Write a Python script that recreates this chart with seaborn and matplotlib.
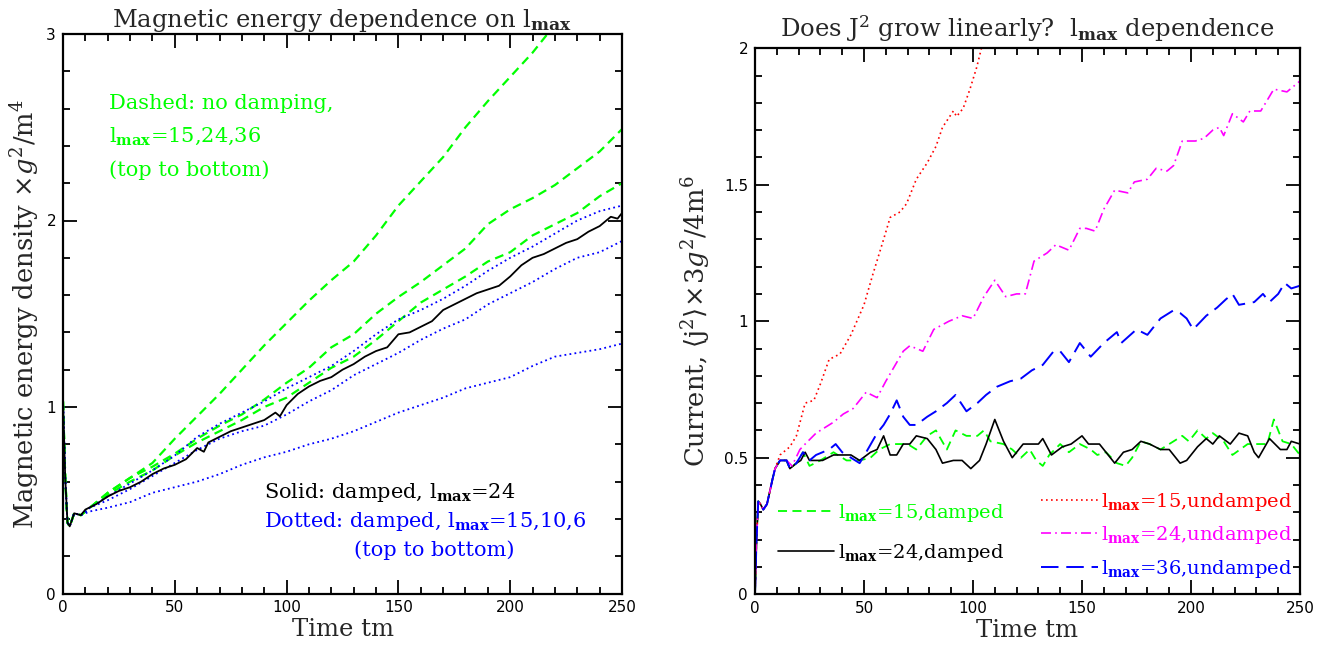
import numpy as np
import pandas as pd
import matplotlib
matplotlib.use("Agg")
import matplotlib.pyplot as plt
import seaborn as sns
from matplotlib.ticker import MultipleLocator, FuncFormatter

# ---------------- Left panel data (Magnetic energy density) ----------------
t_left = [0, 1, 2, 3, 5, 8, 12, 20, 30, 40, 50, 60, 70, 80, 90, 100, 110, 120,
          130, 140, 150, 160, 170, 180, 190, 200, 210, 220, 230, 240, 250]
early_left = [1.03, 0.62, 0.38, 0.36, 0.43, 0.42, 0.46]

g15_undamped = early_left + [0.54, 0.62, 0.70, 0.83, 0.95, 1.07, 1.20, 1.33, 1.45, 1.57, 1.68,
                             1.78, 1.92, 2.08, 2.21, 2.34, 2.50, 2.64, 2.77, 2.90, 3.05]
t_g15 = t_left[:len(g15_undamped)]
g24_undamped = early_left + [0.54, 0.62, 0.68, 0.75, 0.83, 0.90, 0.96, 1.04, 1.13, 1.21, 1.32,
                             1.39, 1.50, 1.59, 1.67, 1.76, 1.85, 1.98, 2.06, 2.12, 2.19, 2.28,
                             2.37, 2.49]
g36_undamped = early_left + [0.53, 0.60, 0.66, 0.74, 0.81, 0.87, 0.93, 1.00, 1.05, 1.13, 1.21,
                             1.27, 1.36, 1.46, 1.56, 1.63, 1.70, 1.78, 1.83, 1.92, 1.98, 2.04,
                             2.13, 2.20]
b15_damped = early_left + [0.52, 0.59, 0.66, 0.74, 0.84, 0.91, 0.97, 1.03, 1.10, 1.16, 1.22,
                           1.30, 1.39, 1.47, 1.52, 1.58, 1.65, 1.73, 1.80, 1.86, 1.93, 2.00,
                           2.05, 2.08]
b10_damped = early_left + [0.50, 0.56, 0.63, 0.70, 0.77, 0.83, 0.87, 0.90, 0.96, 1.03, 1.09,
                           1.17, 1.23, 1.29, 1.36, 1.42, 1.47, 1.55, 1.61, 1.67, 1.74, 1.80,
                           1.83, 1.89]
b6_damped = [1.03, 0.62, 0.38, 0.36, 0.43, 0.42, 0.44, 0.46, 0.49, 0.54, 0.57, 0.60, 0.64, 0.69,
             0.73, 0.76, 0.80, 0.83, 0.87, 0.92, 0.97, 1.01, 1.05, 1.10, 1.13, 1.16, 1.22,
             1.27, 1.29, 1.31, 1.34]

t_black_left = [0, 1, 2, 3, 5, 8, 10, 15, 20, 25, 30, 35, 40, 45, 50, 55, 60, 63, 65, 70, 75,
                80, 85, 90, 95, 97, 100, 105, 110, 115, 120, 125, 130, 135, 140, 145, 150,
                155, 160, 165, 170, 175, 180, 185, 190, 195, 200, 205, 210, 215, 220, 225,
                230, 235, 240, 245, 248, 250]
k24_damped = [1.03, 0.62, 0.38, 0.36, 0.43, 0.42, 0.45, 0.48, 0.52, 0.55, 0.57, 0.60, 0.64,
              0.67, 0.69, 0.72, 0.78, 0.76, 0.81, 0.84, 0.87, 0.89, 0.91, 0.93, 0.97, 0.95,
              1.01, 1.07, 1.11, 1.14, 1.16, 1.20, 1.23, 1.27, 1.30, 1.32, 1.39, 1.40, 1.43,
              1.46, 1.52, 1.55, 1.58, 1.61, 1.63, 1.65, 1.70, 1.76, 1.80, 1.82, 1.85, 1.88,
              1.90, 1.94, 1.97, 2.02, 2.01, 2.04]

# ---------------- Right panel data (Current <j^2>) ----------------
t_early_r = [0, 0.7, 1.5, 2.5, 3.8, 5.5, 6.9, 8, 9.2]
v_early_r = [0.0, 0.20, 0.34, 0.33, 0.31, 0.33, 0.38, 0.42, 0.46]
t_common_r = [11.5, 14.5, 16, 19]
v_common_r = [0.49, 0.49, 0.46, 0.48]

t_red = [11.5, 16, 19, 23, 27, 30, 34, 39, 44, 50, 54, 59, 62, 66.5, 69.5, 74, 79, 83,
         86, 91, 92.5, 95.5, 98.6, 101.7, 104.5]
v_red = [0.51, 0.54, 0.58, 0.70, 0.71, 0.77, 0.86, 0.88, 0.95, 1.06, 1.17, 1.30, 1.38, 1.40,
         1.43, 1.52, 1.58, 1.64, 1.71, 1.77, 1.75, 1.78, 1.85, 1.93, 2.02]

t_mag = [11.5, 14.5, 17, 20.6, 23, 28, 36, 40.5, 45, 51, 56, 60, 68, 71, 77, 82, 89, 95,
         100, 105, 110, 115, 120, 124, 128, 134, 138, 144, 149, 152, 156, 160, 165, 171,
         174, 180, 184, 189, 192, 196, 202, 206, 210, 213, 215, 219, 224, 227, 232, 238,
         244, 250]
v_mag = [0.49, 0.49, 0.47, 0.53, 0.55, 0.59, 0.63, 0.66, 0.68, 0.74, 0.72, 0.78, 0.89, 0.91,
         0.89, 0.97, 1.00, 1.02, 1.01, 1.09, 1.15, 1.09, 1.10, 1.10, 1.22, 1.25, 1.28, 1.26,
         1.34, 1.34, 1.33, 1.41, 1.48, 1.47, 1.51, 1.52, 1.56, 1.55, 1.57, 1.66, 1.66, 1.67,
         1.70, 1.71, 1.68, 1.76, 1.73, 1.77, 1.77, 1.85, 1.84, 1.88]

t_blue = [22, 25, 28, 34, 37, 40, 44, 48, 51, 56, 59, 62, 65, 68, 71, 74, 79, 83, 88, 92,
          97, 102, 106, 111, 117, 122, 127, 132, 137, 140, 144, 149, 154, 160, 166, 168,
          175, 180, 186, 192, 195, 198, 201, 207, 212, 216, 219, 222, 229, 233, 236, 240,
          243, 246, 250]
v_blue = [0.52, 0.49, 0.51, 0.53, 0.55, 0.52, 0.50, 0.48, 0.52, 0.59, 0.62, 0.66, 0.71, 0.65,
          0.62, 0.62, 0.65, 0.67, 0.70, 0.73, 0.67, 0.70, 0.73, 0.76, 0.78, 0.79, 0.82, 0.84,
          0.89, 0.89, 0.85, 0.92, 0.87, 0.92, 0.96, 0.92, 0.97, 0.95, 1.01, 1.04, 1.03, 1.01,
          0.97, 1.02, 1.05, 1.08, 1.10, 1.06, 1.07, 1.10, 1.07, 1.10, 1.14, 1.12, 1.13]

t_black = [21, 23, 25, 31, 36, 44, 48, 53, 56, 59, 62, 65, 68, 71, 74, 79, 83, 86, 91, 95,
           99, 103, 106, 110, 114, 118, 123, 126, 130, 132, 136, 141, 145, 150, 153, 158,
           163, 165, 169, 173, 177, 181, 186, 190, 195, 198, 203, 207, 210, 213, 218, 222,
           226, 229, 231, 236, 241, 244, 246, 250]
v_black = [0.49, 0.52, 0.49, 0.49, 0.51, 0.51, 0.49, 0.52, 0.53, 0.58, 0.51, 0.51, 0.55, 0.55,
           0.58, 0.57, 0.53, 0.48, 0.49, 0.49, 0.46, 0.49, 0.55, 0.64, 0.56, 0.50, 0.55, 0.55,
           0.55, 0.57, 0.51, 0.54, 0.55, 0.58, 0.55, 0.55, 0.50, 0.48, 0.52, 0.53, 0.56, 0.55,
           0.53, 0.53, 0.48, 0.49, 0.54, 0.57, 0.55, 0.58, 0.55, 0.59, 0.58, 0.52, 0.50, 0.57,
           0.53, 0.53, 0.56, 0.55]

t_green = [22, 25, 30, 36, 42, 48, 53, 57, 62, 65, 70, 74, 79, 83, 88, 92, 97, 102, 105, 108,
           114, 118, 122, 126, 129, 132, 135, 140, 144, 149, 154, 157, 161, 166, 170, 173,
           177, 181, 186, 190, 196, 199, 203, 207, 210, 215, 219, 226, 230, 235, 238, 242,
           246, 250]
v_green = [0.52, 0.47, 0.49, 0.52, 0.49, 0.49, 0.50, 0.53, 0.55, 0.55, 0.55, 0.53, 0.58, 0.60,
           0.53, 0.60, 0.58, 0.58, 0.60, 0.56, 0.55, 0.53, 0.50, 0.53, 0.49, 0.47, 0.51, 0.55,
           0.52, 0.55, 0.53, 0.51, 0.52, 0.48, 0.47, 0.50, 0.56, 0.55, 0.53, 0.55, 0.58, 0.56,
           0.60, 0.57, 0.59, 0.56, 0.51, 0.55, 0.55, 0.55, 0.64, 0.56, 0.55, 0.51]

labels_right = [r"$\mathrm{l}_{\mathbf{max}}$=15,damped", r"$\mathrm{l}_{\mathbf{max}}$=24,damped",
                r"$\mathrm{l}_{\mathbf{max}}$=15,undamped", r"$\mathrm{l}_{\mathbf{max}}$=24,undamped",
                r"$\mathrm{l}_{\mathbf{max}}$=36,undamped"]

# ---------------- Style ----------------
sns.set_theme(style="ticks")
plt.rcParams["font.family"] = ["DejaVu Serif", "DejaVu Sans"]
plt.rcParams["mathtext.fontset"] = "dejavuserif"
plt.rcParams["axes.linewidth"] = 1.6

GREEN, BLUE, RED, MAG = "#00ff00", "#0000ff", "#ff0000", "#ff00ff"

fig = plt.figure(figsize=(13.25, 6.51), dpi=100)
axL = fig.add_axes([63 / 1325, (651 - 593.5) / 651, 559 / 1325, 559.5 / 651])
axR = fig.add_axes([755 / 1325, (651 - 594.2) / 651, 545 / 1325, 546 / 651])


def line(ax, t, v, **kw):
    df = pd.DataFrame({"t": t, "v": v})
    sns.lineplot(data=df, x="t", y="v", ax=ax, sort=False, estimator=None, legend=False, **kw)


# Left panel
line(axL, t_g15, g15_undamped, color=GREEN, lw=1.6, dashes=(4, 2.5))
line(axL, t_left, g24_undamped, color=GREEN, lw=1.6, dashes=(4, 2.5))
line(axL, t_left, g36_undamped, color=GREEN, lw=1.6, dashes=(4, 2.5))
line(axL, t_left, b15_damped, color=BLUE, lw=1.3, dashes=(1, 1.8))
line(axL, t_left, b10_damped, color=BLUE, lw=1.3, dashes=(1, 1.8))
line(axL, t_left, b6_damped, color=BLUE, lw=1.3, dashes=(1, 1.8))
line(axL, t_black_left, k24_damped, color="black", lw=1.3)

# Right panel
line(axR, t_early_r + t_common_r + t_green, v_early_r + v_common_r + v_green,
     color=GREEN, lw=1.3, dashes=(5, 3), label=labels_right[0])
line(axR, t_early_r + t_common_r + t_black, v_early_r + v_common_r + v_black,
     color="black", lw=1.2, label=labels_right[1])
line(axR, t_early_r + t_red, v_early_r + v_red,
     color=RED, lw=1.2, dashes=(1, 2), label=labels_right[2])
line(axR, t_early_r + t_mag, v_early_r + v_mag,
     color=MAG, lw=1.2, dashes=(6, 2.5, 1, 2.5), label=labels_right[3])
line(axR, t_early_r + t_common_r + t_blue, v_early_r + v_common_r + v_blue,
     color=BLUE, lw=1.4, dashes=(9, 4), label=labels_right[4])

fmt = FuncFormatter(lambda x, p: "%g" % x)
for ax, ymax, ymaj, ymin in [(axL, 3, 1, 0.2), (axR, 2, 0.5, 0.1)]:
    ax.set_xlim(0, 250)
    ax.set_ylim(0, ymax)
    ax.xaxis.set_major_locator(MultipleLocator(50))
    ax.xaxis.set_minor_locator(MultipleLocator(10))
    ax.yaxis.set_major_locator(MultipleLocator(ymaj))
    ax.yaxis.set_minor_locator(MultipleLocator(ymin))
    ax.xaxis.set_major_formatter(fmt)
    ax.yaxis.set_major_formatter(fmt)
    ax.tick_params(which="both", direction="in", top=True, right=True, width=1.3,
                   colors="black", labelsize=11, pad=5)
    ax.tick_params(which="major", length=10)
    ax.tick_params(which="minor", length=5)
    for lab in ax.get_xticklabels() + ax.get_yticklabels():
        lab.set_family("DejaVu Sans")
    ax.set_xlabel("Time tm", fontsize=17.5, labelpad=2)
    for s in ax.spines.values():
        s.set_color("black")

axL.set_ylabel(r"Magnetic energy density $\times g^2/\mathrm{m}^4$", fontsize=18.5, labelpad=4)
axL.set_title(r"Magnetic energy dependence on $\mathrm{l}_{\mathbf{max}}$", fontsize=17.5, pad=3)
axR.set_ylabel(r"Current, $\langle \mathrm{j}^2\rangle\!\times\!3g^2/4\mathrm{m}^6$", fontsize=18.5,
               labelpad=8)
axR.set_title(r"Does J$^2$ grow linearly?  $\mathrm{l}_{\mathbf{max}}$ dependence", fontsize=17.5, pad=8)

# Left annotations
tk = dict(fontsize=15, ha="left", va="center")
axL.text(20.5, 2.63, "Dashed: no damping,", color=GREEN, **tk)
axL.text(20.5, 2.45, r"$\mathrm{l}_{\mathbf{max}}$=15,24,36", color=GREEN, **tk)
axL.text(20.5, 2.27, "(top to bottom)", color=GREEN, **tk)
axL.text(90, 0.54, r"Solid: damped, $\mathrm{l}_{\mathbf{max}}$=24", color="black", **tk)
axL.text(90, 0.385, r"Dotted: damped, $\mathrm{l}_{\mathbf{max}}$=15,10,6", color=BLUE, **tk)
axL.text(130, 0.23, "(top to bottom)", color=BLUE, **tk)

# Right legends (two groups)
handles, labs = axR.get_legend_handles_labels()
lk = dict(frameon=False, fontsize=14, handlelength=2.9, handletextpad=0.2, borderpad=0,
          borderaxespad=0, loc="center left")
leg1 = axR.legend(handles[:2], labs[:2], bbox_to_anchor=(0.042, 0.112), labelspacing=0.9, **lk)
for txt, c in zip(leg1.get_texts(), [GREEN, "black"]):
    txt.set_color(c)
axR.add_artist(leg1)
leg2 = axR.legend(handles[2:], labs[2:], bbox_to_anchor=(0.525, 0.108), labelspacing=0.6, **lk)
for txt, c in zip(leg2.get_texts(), [RED, MAG, BLUE]):
    txt.set_color(c)

fig.savefig("out.png", dpi=100)
